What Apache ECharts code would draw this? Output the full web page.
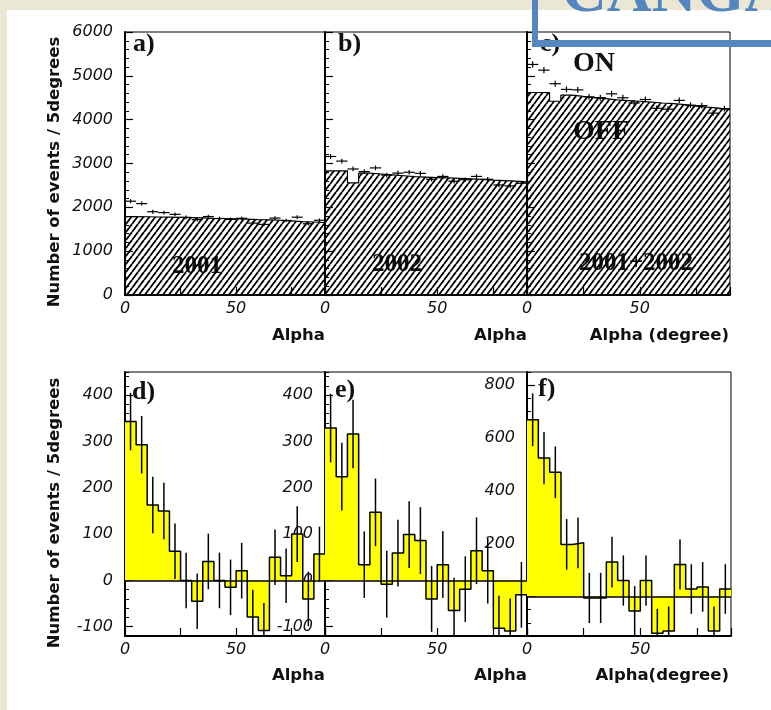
<!DOCTYPE html>
<html>
<head>
<meta charset="utf-8">
<script src="https://cdn.jsdelivr.net/npm/echarts@6/dist/echarts.min.js"></script>
<style>
  html, body { margin: 0; padding: 0; background: #eae8d5; }
  #chart { width: 771px; height: 710px; }
</style>
</head>
<body>
<div id="chart"></div>
<script>
// alpha bins (lower edges, 5 degree wide)
const alphaBins = [0, 5, 10, 15, 20, 25, 30, 35, 40, 45, 50, 55, 60, 65, 70, 75, 80, 85];
const binWidth = 5;

// top row: ON points and OFF (hatched) histograms
const offA = [1790, 1785, 1780, 1775, 1770, 1765, 1760, 1750, 1745, 1740, 1730, 1720, 1715, 1705, 1690, 1675, 1665, 1650];
const onA  = [2140, 2085, 1900, 1880, 1840, 1770, 1720, 1790, 1745, 1725, 1750, 1640, 1610, 1755, 1700, 1775, 1625, 1705];
const errA = [46, 46, 44, 43, 43, 42, 42, 42, 42, 42, 42, 41, 41, 42, 41, 42, 40, 41];

const offB = [2830, 2830, 2560, 2780, 2760, 2740, 2720, 2700, 2690, 2680, 2670, 2660, 2650, 2640, 2620, 2610, 2600, 2580];
const onB  = [3160, 3055, 2875, 2815, 2900, 2735, 2780, 2800, 2775, 2640, 2705, 2595, 2630, 2705, 2640, 2510, 2490, 2550];
const errB = [56, 55, 54, 53, 54, 52, 53, 53, 53, 51, 52, 51, 51, 52, 51, 50, 50, 50];

const offC = [4620, 4615, 4420, 4560, 4530, 4505, 4480, 4450, 4435, 4420, 4400, 4380, 4365, 4345, 4310, 4285, 4265, 4230];
const onC  = [5260, 5130, 4820, 4690, 4680, 4520, 4500, 4590, 4500, 4380, 4460, 4260, 4240, 4440, 4330, 4320, 4150, 4250];
const errC = [72, 72, 69, 68, 68, 67, 67, 68, 67, 66, 67, 65, 65, 66, 65, 65, 64, 65];

// bottom row: ON - OFF excess
const excessD = [343, 293, 163, 150, 63, 0, -45, 41, 0, -15, 21, -79, -108, 50, 10, 100, -40, 57];
const errD    = [62, 62, 61, 61, 60, 60, 60, 60, 60, 60, 60, 59, 59, 60, 59, 60, 59, 59];
const excessE = [329, 224, 316, 34, 147, -8, 59, 99, 86, -40, 34, -65, -19, 64, 21, -103, -109, -31];
const errE    = [74, 73, 74, 72, 73, 72, 72, 72, 72, 71, 72, 71, 71, 72, 71, 70, 70, 71];
const excessF = [669, 524, 470, 197, 203, -6, -6, 130, 60, -55, 60, -140, -131, 121, 28, 36, -131, 28];
const errF    = [100, 99, 98, 96, 96, 95, 95, 96, 95, 94, 95, 93, 93, 95, 94, 94, 93, 94];

// tick labels
const xLabels = [0, 50];
const topYLabels = [0, 1000, 2000, 3000, 4000, 5000, 6000];
const deYLabels = [-100, 0, 100, 200, 300, 400];
const fYLabels = [0, 200, 400, 600, 800];

// panel layout
const grids = [
  { left: 125, top: 32, width: 200, height: 263 },
  { left: 325, top: 32, width: 202, height: 263 },
  { left: 527, top: 32, width: 203, height: 263 },
  { left: 125, top: 372, width: 200, height: 264 },
  { left: 325, top: 372, width: 202, height: 264 },
  { left: 527, top: 372, width: 204, height: 264 }
];

// hatch pattern like ROOT fill style
function makeHatch() {
  const w = 6, h = 8;
  const c = document.createElement('canvas');
  c.width = w; c.height = h;
  const ctx = c.getContext('2d');
  ctx.strokeStyle = '#000';
  ctx.lineWidth = 1.8;
  [-w, 0, w].forEach(dx => {
    ctx.beginPath();
    ctx.moveTo(dx, h);
    ctx.lineTo(dx + w, 0);
    ctx.stroke();
  });
  return c;
}
const hatch = makeHatch();

const stepData = vals => {
  const d = alphaBins.map((a, i) => [a, vals[i]]);
  d.push([alphaBins[alphaBins.length - 1] + binWidth, vals[vals.length - 1]]);
  return d;
};
const pointData = (vals, errs) => alphaBins.map((a, i) => [a + binWidth / 2, vals[i], errs[i]]);

const labelFont = { fontFamily: 'DejaVu Sans', fontStyle: 'italic', fontSize: 16, color: '#111', formatter: v => String(v) };
const black = { color: '#000', width: 2 };

const xAxes = grids.map((g, i) => ({
  gridIndex: i, type: 'value', min: 0, max: 90, interval: 25,
  axisLine: { onZero: false, lineStyle: black },
  axisTick: { inside: true, length: 8, lineStyle: { color: '#000', width: 1.2 } },
  axisLabel: Object.assign({ margin: 6, customValues: xLabels }, labelFont),
  splitLine: { show: false }
}));

const yAxes = [];
[0, 1, 2].forEach(i => {
  yAxes.push({
    gridIndex: i, type: 'value', min: 0, max: 6000, interval: 1000,
    axisLine: { onZero: false, lineStyle: black },
    axisTick: { inside: true, length: 8, lineStyle: { color: '#000', width: 1.2 } },
    minorTick: { show: true, splitNumber: 5, length: 4, lineStyle: { color: '#000', width: 1 } },
    axisLabel: Object.assign({ show: i === 0, margin: 12, customValues: topYLabels }, labelFont),
    splitLine: { show: false }, minorSplitLine: { show: false }
  });
});
const bottomRanges = [[-120, 450, deYLabels, 20], [-120, 450, deYLabels, 20], [-150, 850, fYLabels, 50]];
bottomRanges.forEach((r, j) => {
  yAxes.push({
    gridIndex: 3 + j, type: 'value', min: r[0], max: r[1], position: 'left',
    axisLine: { onZero: false, lineStyle: black },
    axisTick: { inside: true, length: 8, customValues: r[2], lineStyle: { color: '#000', width: 1.2 } },
    axisLabel: Object.assign({ margin: 12, customValues: r[2] }, labelFont),
    splitLine: { show: false }
  });
});
bottomRanges.forEach((r, j) => {
  // minor ticks
  yAxes.push({
    gridIndex: 3 + j, type: 'value', min: r[0], max: r[1], interval: r[3], position: 'left',
    axisLine: { show: false, onZero: false },
    axisTick: { inside: true, length: 4, lineStyle: { color: '#000', width: 1 } },
    axisLabel: { show: false },
    splitLine: { show: false }
  });
});

const renderCross = (params, api) => {
  const x = api.value(0), y = api.value(1), e = api.value(2);
  const l = api.coord([x - binWidth / 2, y]), r = api.coord([x + binWidth / 2, y]);
  const t = api.coord([x, y + e]), b = api.coord([x, y - e]);
  const style = { stroke: '#000', lineWidth: 1.2 };
  return { type: 'group', children: [
    { type: 'line', shape: { x1: l[0], y1: l[1], x2: r[0], y2: r[1] }, style },
    { type: 'line', shape: { x1: t[0], y1: t[1], x2: b[0], y2: b[1] }, style }
  ] };
};
const renderErr = (params, api) => {
  const x = api.value(0), y = api.value(1), e = api.value(2);
  const t = api.coord([x, y + e]), b = api.coord([x, y - e]);
  return { type: 'line', shape: { x1: t[0], y1: t[1], x2: b[0], y2: b[1] }, style: { stroke: '#000', lineWidth: 1.5 } };
};

const series = [];
[[offA, onA, errA], [offB, onB, errB], [offC, onC, errC]].forEach((p, i) => {
  series.push({
    type: 'line', xAxisIndex: i, yAxisIndex: i, step: 'end', symbol: 'none',
    data: stepData(p[0]),
    lineStyle: { color: '#000', width: 1.2 },
    areaStyle: { color: { image: hatch, repeat: 'repeat' }, opacity: 1 },
    z: 2
  });
  series.push({
    type: 'custom', xAxisIndex: i, yAxisIndex: i, clip: true,
    data: pointData(p[1], p[2]), renderItem: renderCross, z: 3
  });
});
[[excessD, errD], [excessE, errE], [excessF, errF]].forEach((p, j) => {
  series.push({
    type: 'line', xAxisIndex: 3 + j, yAxisIndex: 3 + j, step: 'end', symbol: 'none',
    data: stepData(p[0]),
    lineStyle: { color: '#000', width: 1.5 },
    areaStyle: { color: '#ffff00', opacity: 1 },
    markLine: {
      silent: true, symbol: 'none', label: { show: false },
      lineStyle: { color: '#000', width: 1.5, type: 'solid' },
      data: [{ yAxis: 0 }]
    },
    z: 2
  });
  series.push({
    type: 'custom', xAxisIndex: 3 + j, yAxisIndex: 3 + j, clip: true,
    data: pointData(p[0], p[1]), renderItem: renderErr, z: 3
  });
});

const txt = (text, x, y, font, align, extra) => Object.assign({
  type: 'text', x: x, y: y, z: 5,
  style: { text: text, font: font, fill: '#111', align: align, verticalAlign: 'middle',
           textAlign: align, textVerticalAlign: 'middle' }
}, extra || {});

const titleFont = 'bold 16.5px "DejaVu Sans"';
const panelFont = 'bold 26px "Liberation Serif"';
const yearFont = 'bold 25px "Liberation Serif"';

const graphics = [
  { type: 'rect', z: -10, shape: { x: 7, y: 10, width: 764, height: 700 }, style: { fill: '#fff' } },
  txt('Number of events / 5degrees', 55, 172, titleFont, 'center', { rotation: Math.PI / 2 }),
  txt('Number of events / 5degrees', 55, 513, titleFont, 'center', { rotation: Math.PI / 2 }),
  txt('Alpha', 325, 336, titleFont, 'right'),
  txt('Alpha', 527, 336, titleFont, 'right'),
  txt('Alpha (degree)', 729, 336, titleFont, 'right'),
  txt('Alpha', 325, 676, titleFont, 'right'),
  txt('Alpha', 527, 676, titleFont, 'right'),
  txt('Alpha(degree)', 729, 676, titleFont, 'right'),
  txt('a)', 133, 44, panelFont, 'left'),
  txt('b)', 338, 44, panelFont, 'left'),
  txt('c)', 540, 44, panelFont, 'left'),
  txt('d)', 132, 392, panelFont, 'left'),
  txt('e)', 335, 390, panelFont, 'left'),
  txt('f)', 538, 389, panelFont, 'left'),
  txt('ON', 594, 64, 'bold 28px "Liberation Serif"', 'center'),
  txt('OFF', 601, 132, 'bold 28px "Liberation Serif"', 'center', { z: 1 }),
  txt('2001', 197, 267, yearFont, 'center', { z: 1 }),
  txt('2002', 397, 265, yearFont, 'center', { z: 1 }),
  txt('2001+2002', 636, 264, yearFont, 'center', { z: 1 }),
  // blue title frame
  { type: 'rect', z: 100, shape: { x: 532, y: 0, width: 6, height: 47 }, style: { fill: '#5686be' } },
  { type: 'rect', z: 100, shape: { x: 532, y: 40, width: 239, height: 7 }, style: { fill: '#5686be' } },
  Object.assign(txt('CANGAROO', 562, -5, 'bold 62px "Liberation Serif"', 'left'), { z: 100 })
];
graphics[graphics.length - 1].style.fill = '#5686be';

const chart = echarts.init(document.getElementById('chart'));
chart.setOption({
  animation: false,
  backgroundColor: 'transparent',
  grid: grids.map(g => Object.assign({ show: true, borderColor: '#000', borderWidth: 1, backgroundColor: 'transparent' }, g)),
  xAxis: xAxes,
  yAxis: yAxes,
  series: series,
  graphic: { elements: graphics }
});
</script>
</body>
</html>
